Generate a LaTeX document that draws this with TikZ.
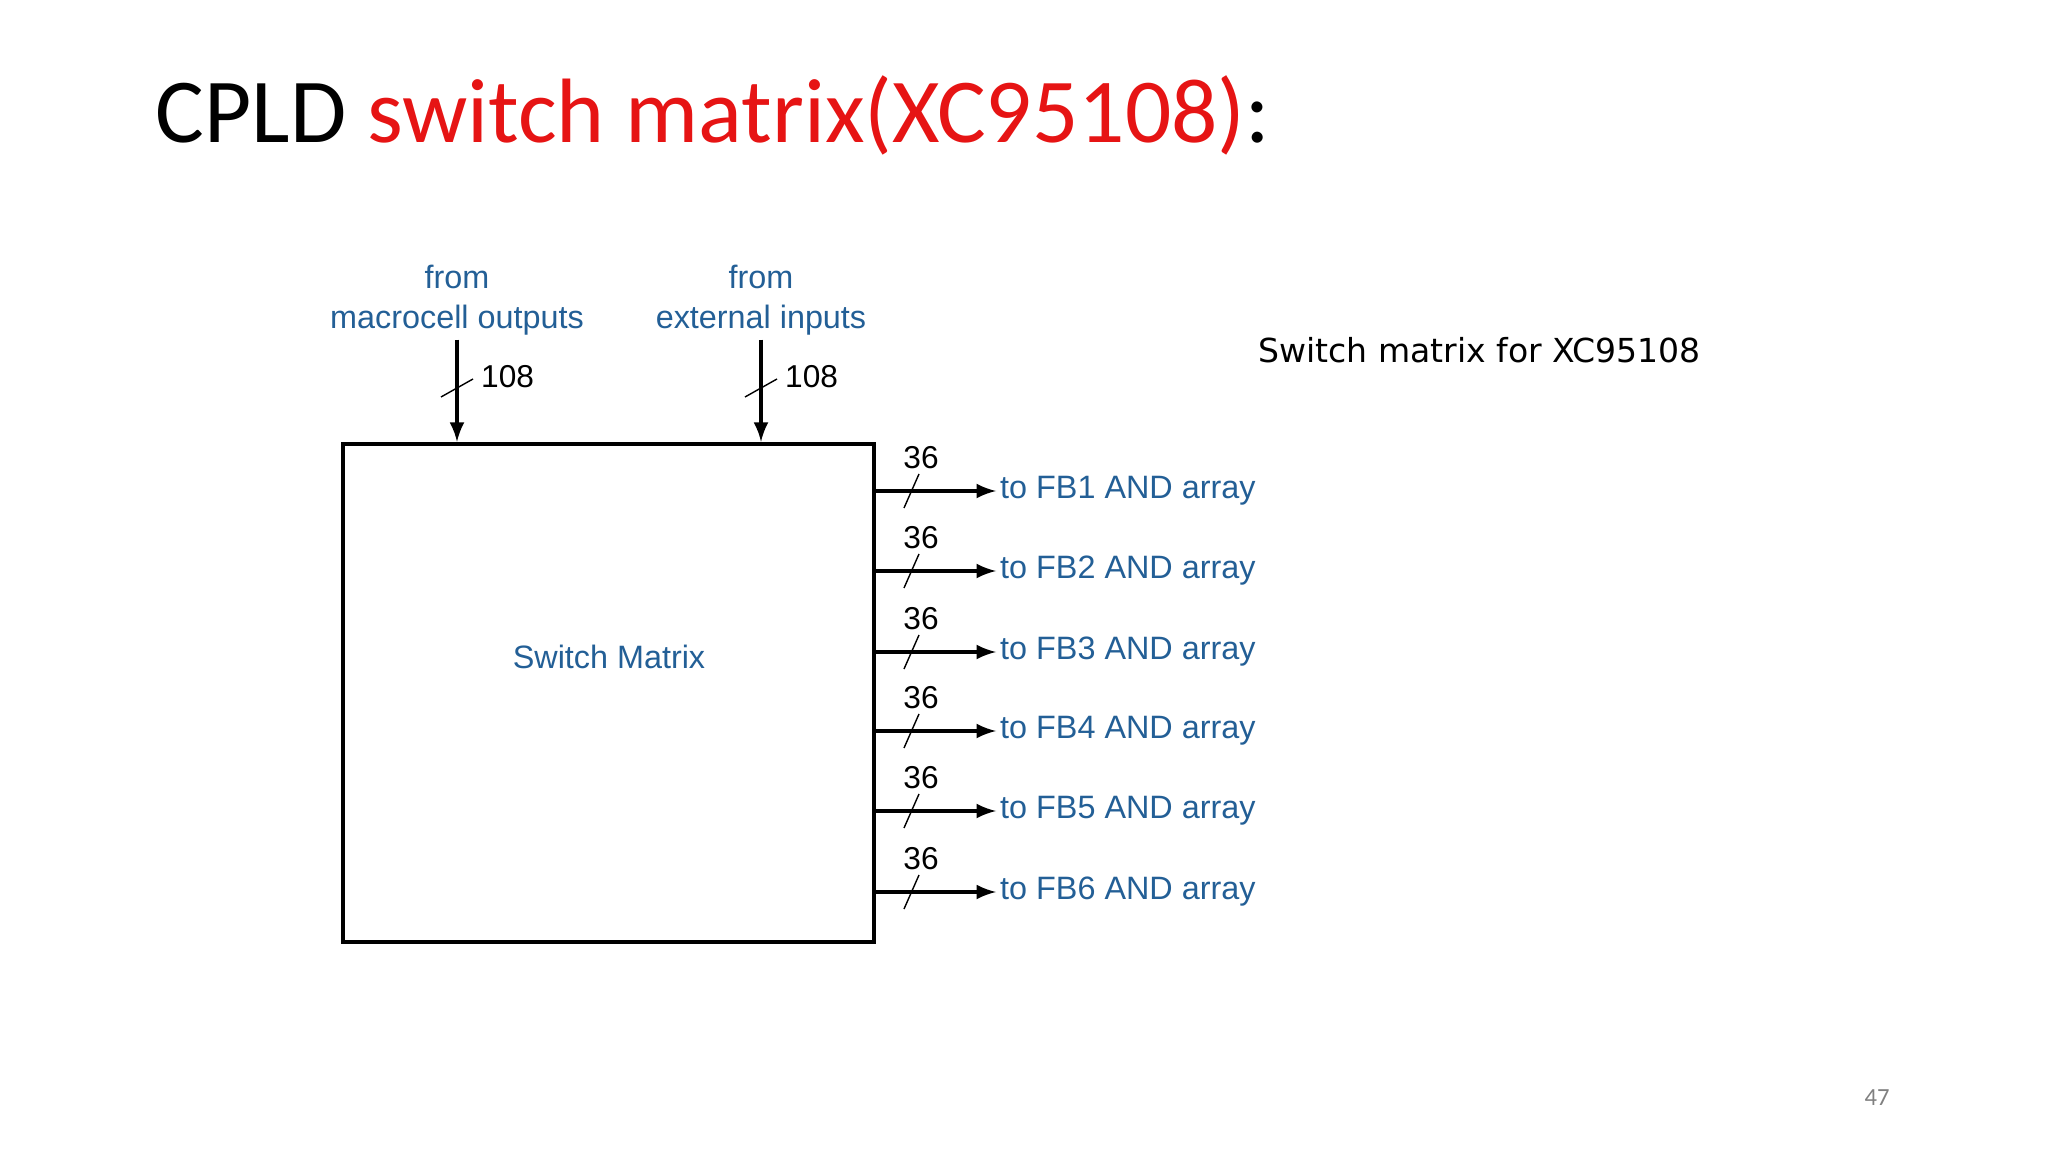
\documentclass[tikz,border=0pt]{standalone}
\usepackage{fontspec}
\setmainfont{Liberation Sans}
\newfontfamily\titlefont{Carlito}
\newfontfamily\notefont{DejaVu Sans}
\usetikzlibrary{positioning,arrows}
\definecolor{figblue}{RGB}{35,95,150}
\definecolor{titlered}{RGB}{230,20,20}
\begin{document}
\begin{tikzpicture}[
  x=0.01cm, y=-0.01cm,
  lbl/.style={text=figblue,font=\fontsize{9.2}{11.5}\selectfont,align=center,inner sep=1pt},
  num/.style={font=\fontsize{9}{11}\selectfont,inner sep=1pt},
  bus/.style={line width=0.9pt,-latex}
    ]
    \useasboundingbox (0,0) rectangle (2048,1152);
    \node[anchor=west,inner sep=0pt,font=\titlefont\fontsize{26}{31}\selectfont] (title) at (155,115)
      {CPLD \textcolor{titlered}{switch matrix(XC95108)}:};
    \node[draw,line width=1.2pt,minimum width=5.31cm,minimum height=4.98cm] (sm) at (608.5,693) {};
    \node[lbl] (smlbl) at (609,657) {Switch Matrix};
    % inputs
    \node[lbl] (mo) at (457,300) {from\\macrocell outputs};
    \node[lbl] (ei) at (761,300) {from\\external inputs};
    \draw[bus] (mo.south) -- (sm.north -| mo);
    \draw[bus] (ei.south) -- (sm.north -| ei);
    \draw (441,397) -- (473,379);
    \draw (745,397) -- (777,379);
    \node[num,anchor=west] at (477,377) {108};
    \node[num,anchor=west] at (781,377) {108};
    % outputs
    \foreach \i/\y in {1/491,2/571,3/652,4/731,5/811,6/892}{
      \coordinate (o\i) at (874,\y);
      \node[lbl,anchor=west] (fb\i) at (996,\y) {to FB\i\ AND array};
      \draw[bus] (o\i) -- (fb\i.west);
      \draw (904,\y+17) -- (919,\y-17);
      \node[num] at (921,\y-33) {36};
    }
    \node[font=\notefont\fontsize{9.4}{11}\selectfont,anchor=west] (note) at (1246,350) {Switch matrix for XC95108};
    \node[text=gray,font=\titlefont\fontsize{7}{8}\selectfont] (pg) at (1877,1098) {47};
\end{tikzpicture}
\end{document}
